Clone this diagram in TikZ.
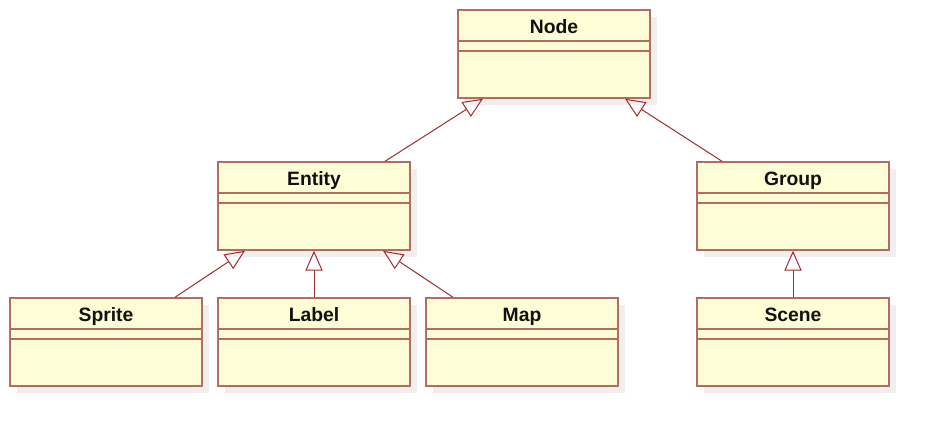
\documentclass[tikz,border=0pt]{standalone}
\usepackage{fontspec}
\setmainfont{Liberation Sans}
\usepackage{xcolor}
\usetikzlibrary{arrows.meta, positioning, calc, shadows}
\definecolor{UFill}{HTML}{FEFED6}
\definecolor{UBorder}{HTML}{B36B63}
\definecolor{ULine}{HTML}{A02C2C}
\definecolor{UShadow}{HTML}{EFEFEF}
\definecolor{UInk}{HTML}{111111}

\begin{document}
\begin{tikzpicture}[
  x=0.75pt, y=-0.75pt,
  cls/.style={rectangle, draw=UBorder, line width=1.1pt, fill=UFill,
              minimum width=144pt, minimum height=66pt, inner sep=0pt,
              general shadow={fill=UShadow, shadow xshift=5pt, shadow yshift=-5pt}},
  title/.style={anchor=base, text=UInk, font=\fontsize{14.5}{17}\selectfont\bfseries,
                inner sep=0pt},
  extends/.style={-{Triangle[open, length=15pt, width=13pt]}, draw=ULine,
                  line width=0.75pt, fill=white},
]
\useasboundingbox (0,0) rectangle (929,426);

% ── class boxes ──────────────────────────────────────────────────────────
\node[cls] (node)   at (554,54)  {};
\node[cls] (entity) at (314,206) {};
\node[cls] (group)  at (793,206) {};
\node[cls] (sprite) at (106,342) {};
\node[cls] (label)  at (314,342) {};
\node[cls] (map)    at (522,342) {};
\node[cls] (scene)  at (793,342) {};

% names and compartments
\foreach \c/\t in {node/Node, entity/Entity, group/Group, sprite/Sprite,
                   label/Label, map/Map, scene/Scene} {
  \node[title] (\c-t) at ([yshift=-18pt]\c.north) {\t};
  \draw[UBorder, line width=1.3pt]
    ([yshift=-24pt]\c.north west) -- ([yshift=-24pt]\c.north east)
    ([yshift=-31.5pt]\c.north west) -- ([yshift=-31.5pt]\c.north east);
}

% ── inheritance ──────────────────────────────────────────────────────────
\draw[extends] ([xshift=53.25pt]entity.north) -- ([xshift=-53.25pt]node.south);
\draw[extends] ([xshift=-53.25pt]group.north) -- ([xshift=53.25pt]node.south);

\draw[extends] ([xshift=51.75pt]sprite.north) -- ([xshift=-51.75pt]entity.south);
\draw[extends] (label.north) -- (entity.south);
\draw[extends] ([xshift=-51.75pt]map.north) -- ([xshift=51.75pt]entity.south);

\draw[extends] (scene.north) -- (group.south);

\end{tikzpicture}
\end{document}
